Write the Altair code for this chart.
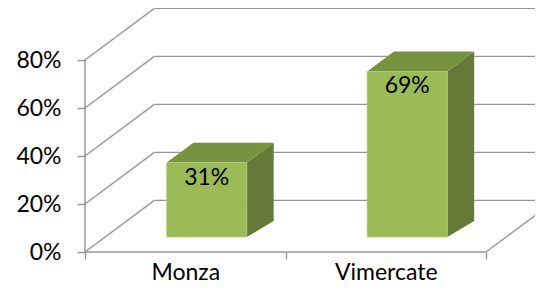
import altair as alt
import pandas as pd

# ---- data -------------------------------------------------------------
categories = ["Monza", "Vimercate"]
values = [0.31, 0.69]
tick_values = [0.0, 0.2, 0.4, 0.6, 0.8]
category_ticks = [0, 1, 2]

# ---- pseudo-3D geometry (data units) -----------------------------------
WALL_DX = 0.346     # depth of the back wall, in category units
WALL_DY = 0.215     # depth of the back wall, in value units
BAR_HALF = 0.2      # half width of the front face
BAR_SHIFT = 0.107   # front face offset from the front plane (x)
BAR_BASE = 0.0625   # front face offset from the front plane (y)
BAR_DX = 0.134      # bar depth (x)
BAR_TOP_DY = 0.083  # bar depth at the top (y)
BAR_BOT_DY = 0.067  # bar depth at the bottom (y)

GRID = "#969696"
FRONT = "#9bbb59"
TOP = "#78933f"
SIDE = "#657a37"
FONT = "Lato"
FS = 23

bars = pd.DataFrame({"cat": categories, "value": values,
                     "idx": list(range(len(categories)))})
faces = bars.merge(pd.DataFrame({"k": [0, 1]}), how="cross")
grid = pd.DataFrame({"t": tick_values})
edges = pd.DataFrame({"c": category_ticks})

xs = alt.Scale(domain=[0, len(categories)], nice=False, zero=False)
ys = alt.Scale(domain=[0, 0.8], nice=False, zero=False)

label_expr = " : ".join(
    f"datum.value == {i + 0.5} ? '{c}'" for i, c in enumerate(categories)
) + " : ''"
x_axis = alt.Axis(
    values=[v / 2 for v in range(2 * len(categories) + 1)],
    labelExpr=label_expr, labelOverlap=False, labelFlush=False,
    domain=False, grid=False, tickSize=7, tickWidth=1.4, tickColor=GRID,
    tickOpacity={"condition": {"test": "datum.value % 1 != 0", "value": 0}, "value": 1},
    labelFont=FONT, labelFontSize=FS, labelColor="#000", labelPadding=2, title=None,
)
y_axis = alt.Axis(
    values=tick_values, format=".0%", domain=False, grid=False,
    tickSize=8, tickWidth=1.4, tickColor=GRID,
    labelFont=FONT, labelFontSize=FS, labelColor="#000", labelPadding=16, title=None,
)

def X(f, **kw):
    return alt.X(f, type="quantitative", scale=xs, axis=x_axis, **kw)

def Y(f, **kw):
    return alt.Y(f, type="quantitative", scale=ys, axis=y_axis, **kw)

# back wall horizontal gridlines
back = alt.Chart(grid).mark_rule(color=GRID, strokeWidth=1.4).transform_calculate(
    x0=f"{WALL_DX}", x1=f"{len(categories)} + {WALL_DX}", yb=f"datum.t + {WALL_DY}"
).encode(x=X("x0:Q"), x2=alt.X2("x1:Q"), y=Y("yb:Q"))

# side wall diagonals
diag = alt.Chart(grid).mark_rule(color=GRID, strokeWidth=1.4).transform_calculate(
    x0="0", x1=f"{WALL_DX}", yb=f"datum.t + {WALL_DY}"
).encode(x=X("x0:Q"), x2=alt.X2("x1:Q"), y=Y("t:Q"), y2=alt.Y2("yb:Q"))

# floor right edge
floor_right = alt.Chart(edges).transform_filter(
    f"datum.c == {len(categories)}"
).mark_rule(color=GRID, strokeWidth=1.4).transform_calculate(
    x1=f"datum.c + {WALL_DX}", y0="0", y1=f"{WALL_DY}"
).encode(x=X("c:Q"), x2=alt.X2("x1:Q"), y=Y("y0:Q"), y2=alt.Y2("y1:Q"))

# left front axis line
left_line = alt.Chart(edges).transform_filter("datum.c == 0").mark_rule(
    color=GRID, strokeWidth=1.4
).transform_calculate(y0="0", y1=f"{max(tick_values)}").encode(
    x=X("c:Q"), y=Y("y0:Q"), y2=alt.Y2("y1:Q"))

# floor front edge
front_floor = alt.Chart(edges).transform_aggregate(
    c0="min(c)", c1="max(c)"
).transform_calculate(y0="0").mark_rule(color=GRID, strokeWidth=1.4).encode(
    x=X("c0:Q"), x2=alt.X2("c1:Q"), y=Y("y0:Q"))

# bars
side = alt.Chart(faces).transform_calculate(
    sx=f"datum.idx + 0.5 + {BAR_HALF} + {BAR_SHIFT} + datum.k * {BAR_DX}",
    ylo=f"{BAR_BASE} + datum.k * {BAR_BOT_DY}",
    yhi=f"datum.value + {BAR_BASE} + datum.k * {BAR_TOP_DY}",
).mark_area(orient="vertical", color=SIDE).encode(
    x=X("sx:Q"), y=Y("ylo:Q"), y2=alt.Y2("yhi:Q"), detail="cat:N")

top = alt.Chart(faces).transform_calculate(
    xl=f"datum.idx + 0.5 - {BAR_HALF} + {BAR_SHIFT} + datum.k * {BAR_DX}",
    xr=f"datum.idx + 0.5 + {BAR_HALF} + {BAR_SHIFT} + datum.k * {BAR_DX}",
    ty=f"datum.value + {BAR_BASE} + datum.k * {BAR_TOP_DY}",
).mark_area(orient="horizontal", color=TOP).encode(
    y=Y("ty:Q"), x=X("xl:Q"), x2=alt.X2("xr:Q"), detail="cat:N")

front = alt.Chart(bars).transform_calculate(
    xl=f"datum.idx + 0.5 - {BAR_HALF} + {BAR_SHIFT}",
    xr=f"datum.idx + 0.5 + {BAR_HALF} + {BAR_SHIFT}",
    yb=f"{BAR_BASE}",
    yt=f"datum.value + {BAR_BASE}",
).mark_rect(color=FRONT, stroke="#b5cf7e", strokeWidth=0.6).encode(
    x=X("xl:Q"), x2=alt.X2("xr:Q"), y=Y("yb:Q"), y2=alt.Y2("yt:Q"))

labels = alt.Chart(bars).transform_calculate(
    lx=f"datum.idx + 0.5 + {BAR_SHIFT}",
).mark_text(font=FONT, fontSize=FS, color="#000", baseline="middle").encode(
    x=X("lx:Q"), y=Y("value:Q"), text=alt.Text("value:Q", format=".0%"))

chart = alt.layer(
    back, diag, floor_right, left_line, front_floor, side, top, front, labels
).properties(
    width=401, height=192,
    autosize=alt.AutoSizeParams(type="none"),
    padding={"left": 77, "top": 52, "right": 49, "bottom": 34},
    background="white",
).configure_view(stroke=None)

chart.save("out.html", embed_options={"renderer": "svg", "actions": False})
